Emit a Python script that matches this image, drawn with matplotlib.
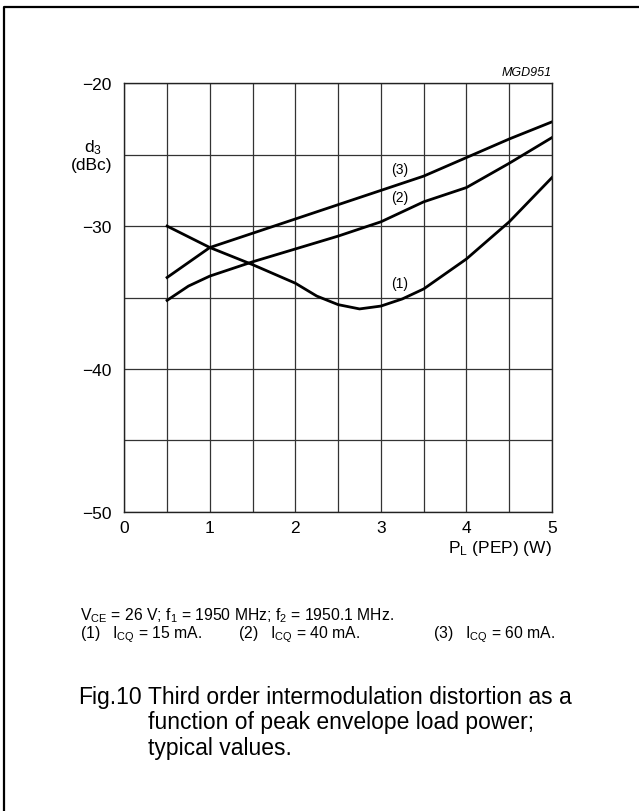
import matplotlib
matplotlib.use("Agg")
import matplotlib.pyplot as plt
from matplotlib.lines import Line2D
from matplotlib.ticker import MultipleLocator, FixedLocator

plt.rcParams['font.family'] = ['Liberation Sans', 'DejaVu Sans']
plt.rcParams['mathtext.fontset'] = 'custom'
plt.rcParams['mathtext.rm'] = 'Liberation Sans'
plt.rcParams['mathtext.it'] = 'Liberation Sans:italic'

# ---- data ----
x_icq15 = [0.5, 1.0, 1.5, 2.0, 2.25, 2.5, 2.75, 3.0, 3.25, 3.5, 4.0, 4.5, 5.0]
d3_icq15 = [-30.0, -31.5, -32.7, -34.0, -34.9, -35.5, -35.8, -35.6, -35.1, -34.4, -32.3, -29.7, -26.6]

x_icq40 = [0.5, 0.75, 1.0, 1.5, 2.0, 2.5, 3.0, 3.5, 4.0, 4.5, 5.0]
d3_icq40 = [-35.2, -34.2, -33.5, -32.5, -31.6, -30.7, -29.7, -28.3, -27.3, -25.6, -23.8]

x_icq60 = [0.5, 1.0, 1.5, 2.0, 2.5, 3.0, 3.5, 4.0, 4.5, 5.0]
d3_icq60 = [-33.6, -31.5, -30.5, -29.5, -28.5, -27.5, -26.5, -25.2, -23.9, -22.7]

curve_labels = ["(1)", "(2)", "(3)"]
label_pos = [(3.22, -34.0), (3.22, -27.95), (3.22, -26.0)]

x_ticks = [0, 1, 2, 3, 4, 5]
y_ticks = [-50, -40, -30, -20]
y_tick_labels = ["\u221250", "\u221240", "\u221230", "\u221220"]

W, H = 639, 812
fig = plt.figure(figsize=(W / 100, H / 100), dpi=100)
fig.patch.set_facecolor("white")

def fx(px):
    return px / W

def fy(py):
    return 1 - py / H

left, right, top, bottom = 124.3, 552.0, 84.3, 512.7
ax = fig.add_axes([fx(left), fy(bottom), fx(right) - fx(left), fy(top) - fy(bottom)])

ax.set_xlim(0, 5)
ax.set_ylim(-50, -20)
ax.xaxis.set_major_locator(FixedLocator(x_ticks))
ax.xaxis.set_minor_locator(MultipleLocator(0.5))
ax.yaxis.set_major_locator(FixedLocator(y_ticks))
ax.yaxis.set_minor_locator(MultipleLocator(5))
ax.set_yticklabels(y_tick_labels)
ax.set_xticklabels([str(t) for t in x_ticks])
ax.tick_params(which="both", length=0, labelsize=12.5, colors="black")
ax.tick_params(axis="y", pad=9)
ax.tick_params(axis="x", pad=6)
ax.grid(True, which="both", color="#333333", linewidth=0.9)
ax.set_axisbelow(True)
for s in ax.spines.values():
    s.set_linewidth(1.0)
    s.set_color("#222222")

lw = 2.0
ax.plot(x_icq15, d3_icq15, color="black", lw=lw, solid_joinstyle="round")
ax.plot(x_icq40, d3_icq40, color="black", lw=lw, solid_joinstyle="round")
ax.plot(x_icq60, d3_icq60, color="black", lw=lw, solid_joinstyle="round")

for lab, (lx, ly) in zip(curve_labels, label_pos):
    ax.text(lx, ly, lab, fontsize=10, ha="center", va="center",
            bbox=dict(facecolor="white", edgecolor="none", pad=0.5))

# axis labels
fig.text(fx(93), fy(152), r"d$_3$", fontsize=12.5, ha="center", va="baseline")
fig.text(fx(92), fy(170), "(dBc)", fontsize=12.5, ha="center", va="baseline")
fig.text(fx(552), fy(553), r"P$_\mathrm{L}$ (PEP) (W)", fontsize=12.5, ha="right", va="baseline")
fig.text(fx(552), fy(76), "MGD951", fontsize=9, ha="right", va="baseline", style="italic")

# notes
fs_notes = 11.3
fig.text(fx(80), fy(620), r"V$_\mathrm{CE}$ = 26 V; f$_1$ = 1950 MHz; f$_2$ = 1950.1 MHz.",
         fontsize=fs_notes, ha="left", va="baseline")
fig.text(fx(80), fy(638), r"(1)   I$_\mathrm{CQ}$ = 15 mA.", fontsize=fs_notes, ha="left", va="baseline")
fig.text(fx(238), fy(638), r"(2)   I$_\mathrm{CQ}$ = 40 mA.", fontsize=fs_notes, ha="left", va="baseline")
fig.text(fx(433), fy(638), r"(3)   I$_\mathrm{CQ}$ = 60 mA.", fontsize=fs_notes, ha="left", va="baseline")

# caption
fs_cap = 16.5
fig.text(fx(78), fy(704), "Fig.10", fontsize=fs_cap, ha="left", va="baseline")
fig.text(fx(148), fy(704), "Third order intermodulation distortion as a", fontsize=fs_cap, ha="left", va="baseline")
fig.text(fx(148), fy(729.5), "function of peak envelope load power;", fontsize=fs_cap, ha="left", va="baseline")
fig.text(fx(148), fy(755), "typical values.", fontsize=fs_cap, ha="left", va="baseline")

# frame (left and top edges visible)
fig.add_artist(Line2D([fx(4.3), fx(4.3), fx(660)], [fy(830), fy(8.3), fy(8.3)],
                      transform=fig.transFigure, color="black", lw=1.6))

fig.savefig("out.png", dpi=100, facecolor="white")
